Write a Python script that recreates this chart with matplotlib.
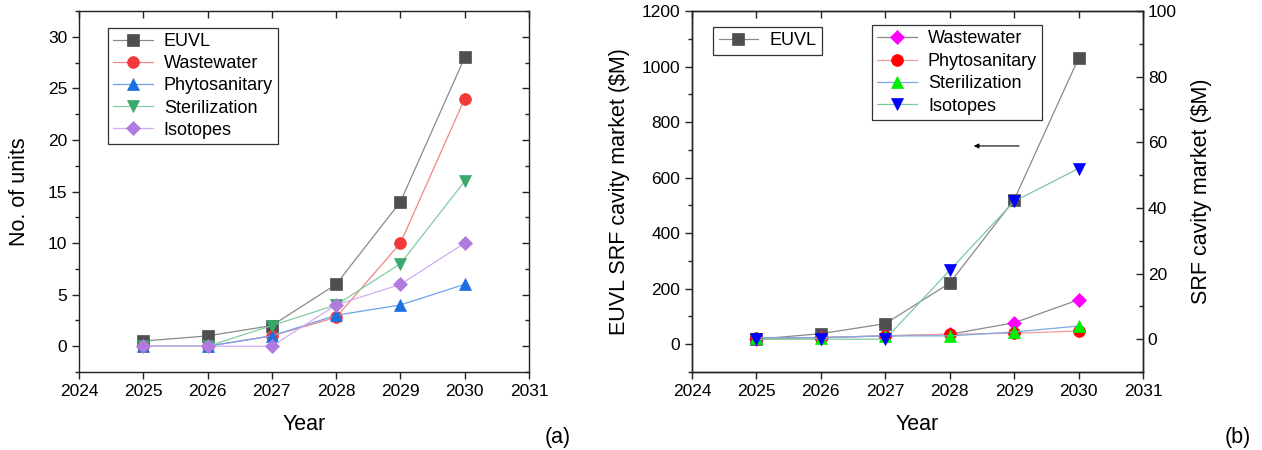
import numpy as np
import matplotlib
matplotlib.use("Agg")
import matplotlib.pyplot as plt
from matplotlib.ticker import MultipleLocator

plt.rcParams['font.family'] = ['Liberation Sans', 'DejaVu Sans']

years = [2025, 2026, 2027, 2028, 2029, 2030]

# (a) number of units
units_euvl = [0.5, 1, 2, 6, 14, 28]
units_waste = [0, 0, 1, 2.8, 10, 24]
units_phyto = [0, 0, 1, 3, 4, 6]
units_steril = [0, 0, 2, 4, 8, 16]
units_iso = [0, 0, 0, 4, 6, 10]

# (b) market, $M
mkt_euvl = [18, 38, 74, 220, 520, 1030]
mkt_waste = [0, 0.5, 1, 1.5, 5, 12]
mkt_phyto = [0.3, 0.5, 1, 1.5, 1.8, 2.5]
mkt_steril = [0.5, 0.5, 1, 1, 2.2, 4]
mkt_iso = [0, 0, 0, 21, 42, 52]

TICK_FS = 12.5
LABEL_FS = 15.5
LEG_FS = 13

fig = plt.figure(figsize=(12.62, 4.5), dpi=100)
ax1 = fig.add_axes([79/1262, 78/450, 450/1262, 361/450])
ax2 = fig.add_axes([692/1262, 78/450, 451/1262, 361/450])


def style(ax):
    for s in ax.spines.values():
        s.set_linewidth(1.0)
        s.set_color('#222222')
    ax.set_xlim(2024, 2031)
    ax.xaxis.set_major_locator(MultipleLocator(1))
    ax.tick_params(axis='both', which='major', direction='out', length=5, width=1,
                   labelsize=TICK_FS, color='#222222')
    ax.tick_params(axis='both', which='minor', direction='out', length=3, width=1,
                   color='#222222')
    top = ax.secondary_xaxis('top')
    top.xaxis.set_major_locator(MultipleLocator(1))
    top.tick_params(direction='in', length=5, width=1, labeltop=False, color='#222222')
    top.spines['top'].set_visible(False)
    ax.set_xlabel('Year', fontsize=LABEL_FS)
    ax.xaxis.set_label_coords(0.5, -0.115)


# ---- (a)
style(ax1)
series_a = [
    (units_euvl, 'EUVL', 's', '#4f4f4f', '#8a8a8a'),
    (units_waste, 'Wastewater', 'o', '#f03a3a', '#f58484'),
    (units_phyto, 'Phytosanitary', '^', '#1c6fe0', '#6fa2ec'),
    (units_steril, 'Sterilization', 'v', '#38a96a', '#80cda2'),
    (units_iso, 'Isotopes', 'D', '#b17ade', '#cfaef0'),
]
for vals, lab, mk, mc, lc in series_a:
    ax1.plot(years, vals, color=lc, lw=0.9, marker=mk, ms=8.5 if mk != 'D' else 7.5,
             mfc=mc, mec=mc, mew=0.5, label=lab)
ax1.set_ylim(-2.5, 32.5)
ax1.yaxis.set_major_locator(MultipleLocator(5))
ax1.yaxis.set_minor_locator(MultipleLocator(2.5))
r1 = ax1.secondary_yaxis('right')
r1.yaxis.set_major_locator(MultipleLocator(5))
r1.yaxis.set_minor_locator(MultipleLocator(2.5))
r1.tick_params(which='major', direction='in', length=5, width=1, labelright=False, color='#222222')
r1.tick_params(which='minor', direction='in', length=3, width=1, color='#222222')
r1.spines['right'].set_visible(False)
ax1.set_ylabel('No. of units', fontsize=LABEL_FS)
ax1.yaxis.set_label_coords(-0.108, 0.5)
leg = ax1.legend(loc='upper left', bbox_to_anchor=(0.064, 0.953), borderaxespad=0,
                 fontsize=LEG_FS, fancybox=False, framealpha=1, edgecolor='#333333',
                 handlelength=2.2, labelspacing=0.28, borderpad=0.3, handletextpad=0.6)
leg.get_frame().set_linewidth(0.9)

# ---- (b)
style(ax2)
ax2.plot(years, mkt_euvl, color='#8a8a8a', lw=0.9, marker='s', ms=8.5,
         mfc='#4f4f4f', mec='#4f4f4f', mew=0.5, label='EUVL')
ax2.set_ylim(-100, 1200)
ax2.yaxis.set_major_locator(MultipleLocator(200))
ax2.yaxis.set_minor_locator(MultipleLocator(100))
ax2.set_ylabel('EUVL SRF cavity market ($M)', fontsize=LABEL_FS)
ax2.yaxis.set_label_coords(-0.137, 0.5)

tw = ax2.twinx()
tw.set_ylim(-10, 100)
tw.yaxis.set_major_locator(MultipleLocator(20))
tw.yaxis.set_minor_locator(MultipleLocator(10))
tw.tick_params(which='major', direction='in', length=5, width=1, labelsize=TICK_FS, color='#222222')
tw.tick_params(which='minor', direction='in', length=3, width=1, color='#222222')
for s in tw.spines.values():
    s.set_linewidth(1.0)
    s.set_color('#222222')
series_b = [
    (mkt_waste, 'Wastewater', 'D', '#ff00ff', '#8a8a8a'),
    (mkt_phyto, 'Phytosanitary', 'o', '#ff0000', '#f59a9a'),
    (mkt_steril, 'Sterilization', '^', '#00ee00', '#7fa9e6'),
    (mkt_iso, 'Isotopes', 'v', '#0000ff', '#7fc99c'),
]
for vals, lab, mk, mc, lc in series_b:
    tw.plot(years, vals, color=lc, lw=0.9, marker=mk, ms=8.5 if mk != 'D' else 7.5,
            mfc=mc, mec=mc, mew=0.5, label=lab)
tw.set_ylabel('SRF cavity market ($M)', fontsize=LABEL_FS)
tw.yaxis.set_label_coords(1.106, 0.5)

leg2 = ax2.legend(loc='upper left', bbox_to_anchor=(0.047, 0.956), borderaxespad=0,
                  fontsize=LEG_FS, fancybox=False, framealpha=1, edgecolor='#333333',
                  handlelength=2.2, borderpad=0.3, handletextpad=0.6)
leg2.get_frame().set_linewidth(0.9)
leg3 = tw.legend(loc='upper left', bbox_to_anchor=(0.399, 0.961), borderaxespad=0,
                 fontsize=LEG_FS, fancybox=False, framealpha=1, edgecolor='#333333',
                 handlelength=2.2, labelspacing=0.3, borderpad=0.3, handletextpad=0.6)
leg3.get_frame().set_linewidth(0.9)

ax2.annotate('', xy=(2028.33, 714), xytext=(2029.12, 714),
             arrowprops=dict(arrowstyle='-|>', color='k', lw=0.8, mutation_scale=7))

fig.text(558/1262, 1 - 437/450, '(a)', ha='center', va='center', fontsize=LABEL_FS)
fig.text(1238/1262, 1 - 437/450, '(b)', ha='center', va='center', fontsize=LABEL_FS)

fig.savefig('out.png', dpi=100)
